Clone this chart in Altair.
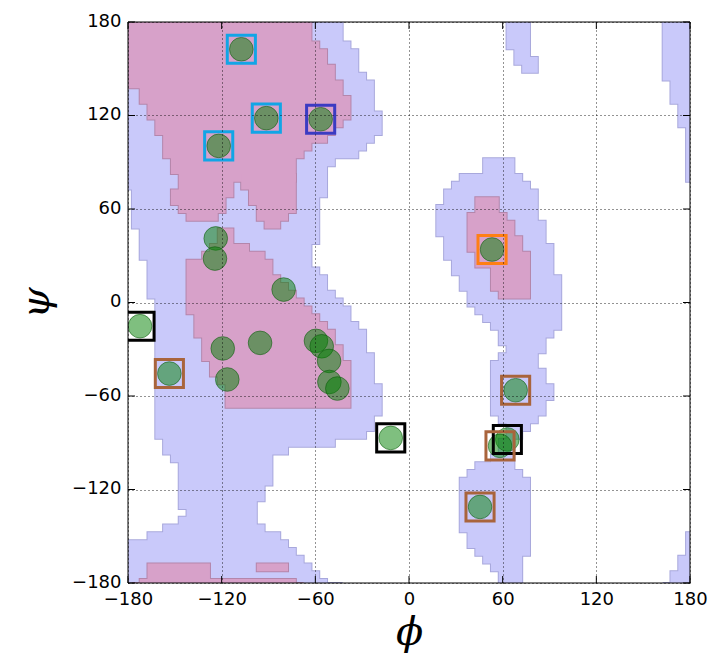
import altair as alt
import pandas as pd

TICKS = [-180, -120, -60, 0, 60, 120, 180]
CELL = 5  # the region map is a 5-degree grid with cells centred on multiples of 5

# Region maps, stored as runs of grid rows:
# (psi_top, psi_bottom, phi_first, phi_last), all values are cell centres in degrees.
ALLOWED = {
    "b1": [
        (180, 175, -180, -45), (170, 170, -180, -40), (165, 155, -180, -35),
        (150, 150, -180, -30), (145, 130, -180, -25), (125, 115, -180, -20),
        (110, 110, -180, -25), (105, 105, -180, -30), (100, 100, -180, -35),
        (95, 95, -180, -50), (90, 80, -180, -55), (75, 75, -175, -55),
        (70, 55, -175, -60), (50, 45, -170, -60), (40, 35, -170, -65),
        (30, 30, -165, -65), (25, 25, -165, -60), (20, 15, -165, -55),
        (10, 10, -165, -50), (5, 5, -160, -45), (0, -5, -160, -40),
        (-10, -10, -160, -35), (-15, -25, -160, -30), (-30, -45, -160, -25),
        (-50, -65, -160, -20), (-70, -75, -160, -25), (-80, -80, -160, -30),
        (-85, -85, -155, -50), (-90, -90, -155, -80), (-95, -95, -150, -90),
        (-100, -110, -145, -90), (-115, -120, -145, -95), (-125, -125, -145, -100),
        (-130, -130, -140, -100), (-135, -135, -145, -100), (-140, -140, -155, -95),
        (-145, -145, -165, -85), (-150, -150, -180, -80), (-155, -155, -180, -75),
        (-160, -160, -180, -70), (-165, -165, -180, -65), (-170, -170, -180, -60),
        (-175, -175, -180, -55), (-180, -180, -180, -45),
    ],
    "b2": [
        (90, 90, 50, 65), (85, 85, 35, 70), (80, 80, 30, 75), (75, 70, 25, 80),
        (65, 60, 20, 80), (55, 50, 20, 85), (45, 45, 25, 85), (40, 35, 25, 90),
        (30, 25, 30, 90), (20, 15, 35, 95), (10, 5, 40, 95), (0, 0, 45, 95),
        (-5, -5, 50, 95), (-10, -10, 55, 95), (-15, -15, 60, 90), (-20, -20, 60, 85),
        (-25, -25, 65, 85), (-30, -30, 60, 80), (-35, -35, 55, 80), (-40, -45, 55, 85),
        (-50, -55, 55, 90), (-60, -65, 55, 85), (-70, -70, 60, 80), (-75, -75, 65, 75),
        (-80, -80, 65, 70), (-85, -90, 60, 65), (-95, -95, 55, 65), (-100, -100, 45, 65),
        (-105, -105, 40, 70), (-110, -140, 35, 75), (-145, -150, 40, 75),
        (-155, -155, 45, 75), (-160, -160, 50, 70), (-165, -165, 55, 70),
        (-170, -180, 60, 70),
    ],
    "b2top": [
        (180, 170, 65, 75), (165, 165, 70, 75), (160, 160, 70, 80), (155, 150, 75, 80),
    ],
    "b3": [
        (180, 150, 165, 180), (145, 135, 170, 180), (130, 120, 175, 180), (115, 80, 180, 180),
    ],
    "b4": [
        (-150, -155, 180, 180), (-160, -165, 175, 180), (-170, -175, 170, 180),
        (-180, -180, 165, 180),
    ],
}

FAVOURED = {
    "p1": [
        (180, 175, -180, -65), (170, 170, -180, -60), (165, 160, -180, -55),
        (155, 150, -180, -50), (145, 145, -180, -45), (140, 140, -170, -45),
        (135, 135, -170, -40), (130, 125, -165, -40), (120, 120, -160, -45),
        (115, 115, -160, -50), (110, 110, -155, -55), (105, 105, -155, -65),
        (100, 100, -155, -70), (95, 90, -150, -75), (85, 85, -145, -75),
        (80, 80, -145, -115), (75, 75, -150, -115), (70, 70, -150, -120),
        (65, 65, -145, -120), (60, 60, -140, -125), (55, 55, -135, -130),
    ],
    "p1b": [
        (80, 80, -105, -75), (75, 70, -100, -75), (65, 65, -95, -75),
        (60, 60, -95, -80), (55, 55, -90, -85), (50, 50, -90, -90),
    ],
    "p2": [
        (45, 45, -120, -115), (40, 40, -125, -105), (35, 35, -130, -95),
        (30, 25, -140, -90), (20, 20, -140, -85), (15, 15, -140, -80),
        (10, 10, -140, -75), (5, 5, -140, -70), (0, 0, -140, -65),
        (-5, -5, -135, -60), (-10, -10, -135, -55), (-15, -15, -135, -50),
        (-20, -20, -130, -50), (-25, -30, -130, -45), (-35, -40, -125, -40),
        (-45, -45, -120, -40), (-50, -60, -115, -40), (-65, -65, -75, -45),
    ],
    "p3": [
        (-170, -170, -165, -130), (-175, -175, -170, -75), (-180, -180, -175, -70),
    ],
    "p3b": [
        (-170, -170, -95, -80),
    ],
    "p4": [
        (65, 65, 45, 55), (60, 60, 40, 60), (55, 50, 40, 65), (45, 40, 40, 70),
        (35, 30, 45, 75), (25, 15, 55, 75), (10, 10, 60, 75), (5, 5, 65, 75),
    ],
}

# residues (phi, psi)
res_phi = [-107.4, -91.4, -56.6, -121.9, -123.8, -124.3, -80.3, -172.3, -119.3,
           -95.4, -59.6, -55.9, -51.2, -116.4, -51.0, -45.9, -153.5, -11.7,
           53.2, 68.3, 63.0, 58.3, 45.5]
res_psi = [162.5, 118.3, 117.6, 100.5, 41.1, 28.2, 8.3, -15.2, -29.5,
           -25.9, -24.6, -28.1, -37.5, -49.4, -51.0, -55.2, -45.6, -86.9,
           34.0, -56.3, -87.9, -92.0, -131.2]

# highlighted residues, outlined with open squares
box_phi = [-172.3, -11.7, 63.0, -107.4, -91.4, -121.9, -56.6, 53.2,
           -153.5, 68.3, 58.3, 45.5]
box_psi = [-15.2, -86.9, -87.9, 162.5, 118.3, 100.5, 117.6, 34.0,
           -45.6, -56.3, -92.0, -131.2]
box_kind = ["k", "k", "k", "c", "c", "c", "n", "o", "r", "r", "r", "r"]
box_colors = {"k": "#000000", "c": "#12a5e6", "n": "#3b3bc2", "o": "#ff7f14", "r": "#a9643c"}


def expand(pieces):
    """Turn row runs into step-outline points (bottom edge of each row + closing top edge)."""
    recs = []
    half = CELL / 2
    for name, runs in pieces.items():
        cells = []
        for top, bottom, lo, hi in runs:
            for c in range(top, bottom - 1, -CELL):
                cells.append((c, lo, hi))
        cells.sort(key=lambda r: r[0])
        for c, lo, hi in cells:
            recs.append({"piece": name, "psi": max(c - half, -180),
                         "lo": max(lo - half, -180), "hi": min(hi + half, 180)})
        c, lo, hi = cells[-1]
        recs.append({"piece": name, "psi": min(c + half, 180),
                     "lo": max(lo - half, -180), "hi": min(hi + half, 180)})
    return pd.DataFrame(recs)


allowed_df = expand(ALLOWED)
favoured_df = expand(FAVOURED)
res_df = pd.DataFrame({"phi": res_phi, "psi": res_psi})
box_df = pd.DataFrame({"phi": box_phi, "psi": box_psi, "kind": box_kind})
tick_df = pd.DataFrame({"t": TICKS})
frame_df = pd.DataFrame({"a": [-180], "b": [180]})

W, H = 562, 561
TL = 7  # inward tick length

xs = alt.Scale(domain=[-180, 180], nice=False, zero=False)
ys = alt.Scale(domain=[-180, 180], nice=False, zero=False)

common_axis = dict(
    values=TICKS, format="d", labelFont="DejaVu Sans", labelFontSize=18,
    labelColor="black", labelFlush=False, labelOverlap=False, tickSize=0,
    domain=False, grid=True, gridColor="black", gridDash=[1, 3], gridWidth=1,
    gridOpacity=0.85, titleFont="DejaVu Serif", titleFontStyle="italic",
    titleFontWeight="normal", titleFontSize=40, titleColor="black", zindex=1,
)
ax_x = alt.Axis(title="ϕ", labelPadding=7, titleX=W / 2, titleY=49,
                titleAlign="center", titleBaseline="middle", **common_axis)
ax_y = alt.Axis(title="ψ", labelPadding=7, labelOffset=-1, titleX=-92, titleY=H / 2,
                titleAngle=270, titleAlign="center", titleBaseline="middle", **common_axis)


def X(field, **kw):
    return alt.X(field, type="quantitative", scale=xs, axis=ax_x, title="ϕ", **kw)


def Y(field, **kw):
    return alt.Y(field, type="quantitative", scale=ys, axis=ax_y, title="ψ", **kw)


def region_layers(df, fill, edge):
    # horizontal area, sorted by psi; step-before gives one flat band per grid row
    base = alt.Chart(df).encode(
        x=X("lo", stack=False), x2=alt.X2("hi"), y=Y("psi"),
        detail=alt.Detail("piece:N"),
    )
    outline = base.mark_area(orient="horizontal", interpolate="step-before",
                             fill=fill, stroke=edge, strokeWidth=2, clip=True)
    body = base.mark_area(orient="horizontal", interpolate="step-before",
                          fill=fill, strokeWidth=0, clip=True)
    return [outline, body]


layers = []
layers += region_layers(allowed_df, "#c9c9fa", "#a8a8dc")
layers += region_layers(favoured_df, "#d7a1c9", "#b486ab")

circles = alt.Chart(res_df).mark_circle(
    size=560, color="#008000", fillOpacity=0.5, stroke="#0a5a0a",
    strokeOpacity=0.55, strokeWidth=1, clip=True,
).encode(x=X("phi"), y=Y("psi"))

boxes = alt.Chart(box_df).mark_point(
    shape="square", filled=False, size=790, strokeWidth=3, opacity=1, clip=True,
).encode(
    x=X("phi"), y=Y("psi"),
    color=alt.Color("kind:N", legend=None,
                    scale=alt.Scale(domain=list(box_colors.keys()),
                                    range=list(box_colors.values()))),
)

frame = alt.Chart(frame_df).mark_rect(filled=False, color="black", strokeWidth=1).encode(
    x=X("a"), x2=alt.X2("b"), y=Y("a"), y2=alt.Y2("b")
)

tick_bottom = alt.Chart(tick_df).mark_rule(color="black", strokeWidth=1).encode(
    x=X("t"), y=alt.value(H), y2=alt.value(H - TL))
tick_top = alt.Chart(tick_df).mark_rule(color="black", strokeWidth=1).encode(
    x=X("t"), y=alt.value(0), y2=alt.value(TL))
tick_left = alt.Chart(tick_df).mark_rule(color="black", strokeWidth=1).encode(
    y=Y("t"), x=alt.value(0), x2=alt.value(TL))
tick_right = alt.Chart(tick_df).mark_rule(color="black", strokeWidth=1).encode(
    y=Y("t"), x=alt.value(W), x2=alt.value(W - TL))

layers += [circles, boxes, frame, tick_bottom, tick_top, tick_left, tick_right]

chart = alt.layer(*layers).properties(
    width=W, height=H,
    autosize=alt.AutoSizeParams(type="none"),
    padding={"left": 128, "top": 22, "right": 21, "bottom": 80},
    background="white",
).configure_view(stroke="transparent")

chart.save("out.html", embed_options={"renderer": "svg", "actions": False})
